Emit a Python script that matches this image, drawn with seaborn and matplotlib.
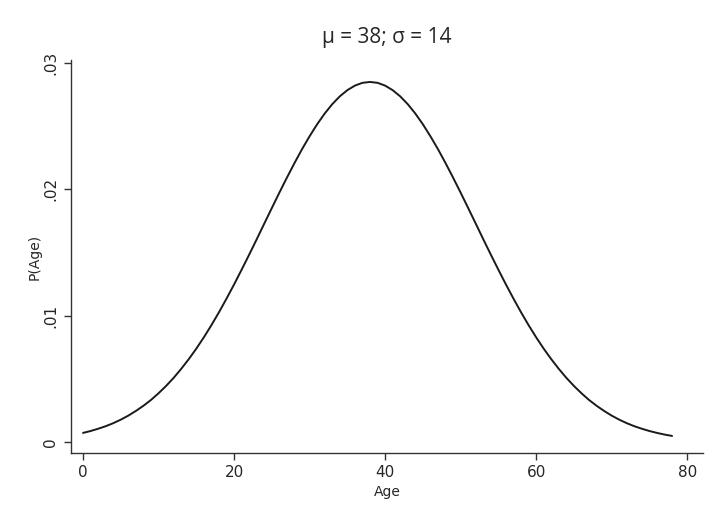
import pandas as pd
import seaborn as sns
import matplotlib
matplotlib.use("Agg")
import matplotlib.pyplot as plt

sns.set_style("white")
plt.rcParams['font.family'] = ['DejaVu Sans']

# values, one per year of age
age = list(range(0, 79))
p_age = [0.00072, 0.00087, 0.00105, 0.00125, 0.00149, 0.00177, 0.00209, 0.00246,
         0.00287, 0.00333, 0.00386, 0.00444, 0.00508, 0.00579, 0.00656, 0.00739,
         0.00829, 0.00925, 0.01027, 0.01135, 0.01247, 0.01364, 0.01483, 0.01605,
         0.01729, 0.01852, 0.01974, 0.02093, 0.02208, 0.02318, 0.02420, 0.02515,
         0.02600, 0.02674, 0.02736, 0.02785, 0.02821, 0.02843, 0.02850, 0.02843,
         0.02821, 0.02785, 0.02736, 0.02674, 0.02600, 0.02515, 0.02420, 0.02318,
         0.02208, 0.02093, 0.01974, 0.01852, 0.01729, 0.01605, 0.01483, 0.01364,
         0.01247, 0.01135, 0.01027, 0.00925, 0.00829, 0.00739, 0.00656, 0.00579,
         0.00508, 0.00444, 0.00386, 0.00333, 0.00287, 0.00246, 0.00209, 0.00177,
         0.00149, 0.00125, 0.00105, 0.00087, 0.00072, 0.00059, 0.00048]
x_ticks = [0, 20, 40, 60, 80]
y_ticks = [0, 0.01, 0.02, 0.03]
y_labels = ['0', '.01', '.02', '.03']

df = pd.DataFrame({'Age': age, 'P(Age)': p_age})

fig = plt.figure(figsize=(7.22, 5.26), dpi=100)
ax = fig.add_axes([0.0983, 0.1388, 0.8754, 0.7472])
sns.lineplot(data=df, x='Age', y='P(Age)', color='#1a1a1a', linewidth=1.4, ax=ax,
             solid_joinstyle='round', solid_capstyle='round')

ax.set_xlim(-1.6, 82.1)
ax.set_ylim(-0.00087, 0.03024)
ax.set_xticks(x_ticks)
ax.set_yticks(y_ticks)
ax.set_yticklabels(y_labels, rotation=90, va='center')
ax.tick_params(axis='both', direction='out', length=5, width=1, color='#333333',
               labelsize=11, bottom=True, left=True, pad=4)
sns.despine(ax=ax)
for s in ['left', 'bottom']:
    ax.spines[s].set_color('#333333')
    ax.spines[s].set_linewidth(1)

ax.set_xlabel('Age', fontsize=10, labelpad=3)
ax.set_ylabel('P(Age)', fontsize=10, labelpad=1)
ax.set_title('μ = 38; σ = 14', fontsize=15, pad=12, family=['Open Sans', 'DejaVu Sans'])

fig.savefig('out.png', dpi=100)
